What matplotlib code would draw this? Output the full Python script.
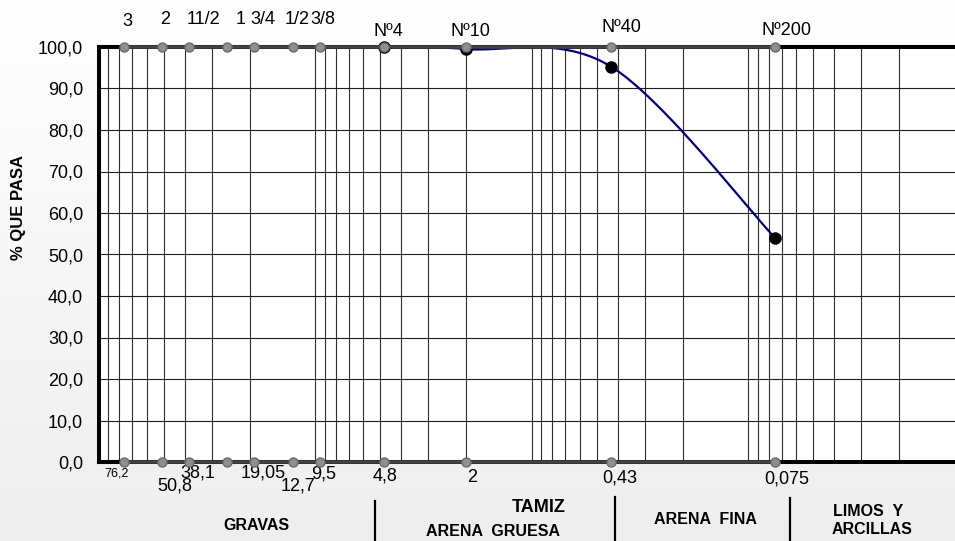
import numpy as np
import matplotlib
matplotlib.use("Agg")
import matplotlib.pyplot as plt
from matplotlib.lines import Line2D

plt.rcParams['font.family'] = ['Liberation Sans', 'DejaVu Sans']

# sieve openings (mm) and their names
sieve_mm = [76.2, 50.8, 38.1, 25.4, 19.05, 12.7, 9.5, 4.8, 2.0, 0.43, 0.075]
sieve_names = ["3", "2", "11/2", "1", "3/4", "1/2", "3/8", "Nº4", "Nº10", "Nº40", "Nº200"]
sieve_sizes = ["76,2", "50,8", "38,1", "", "19,05", "12,7", "9,5", "4,8", "2", "0,43", "0,075"]

# grading results
grain_mm = [4.8, 2.0, 0.43, 0.075]
pct_pass = [100.0, 99.5, 95.3, 54.0]

y_ticks = [0, 10, 20, 30, 40, 50, 60, 70, 80, 90, 100]

# label offsets in pixels (dx, dy) relative to each sieve point
top_off = [(3, 26), (3, 28), (14, 28), (13, 28), (8, 28), (5, 28), (3, 28),
           (4, 15), (4, 15), (11, 19), (11, 16)]
bot_off = [(-8, -11), (13, -24), (9, -11), (0, 0), (9, -11), (5, -24), (4, -12),
           (1, -14), (6, -16), (9, -16), (12, -17)]

W, H = 955, 541
fig = plt.figure(figsize=(W / 100, H / 100), dpi=100)

# soft white-to-grey background
bg = fig.add_axes([0, 0, 1, 1], zorder=-10)
grad = np.linspace(1.0, 0.935, 256)[:, None]
bg.imshow(np.dstack([grad, grad, grad]), aspect='auto', extent=[0, 1, 0, 1])
bg.axis('off')

ax = fig.add_axes([98.5 / W, (H - 462) / H, 866 / W, 415 / H])
ax.set_facecolor('white')
ax.set_xscale('log')
ax.set_xlim(100, 0.01)
ax.set_ylim(0, 100)
ax.set_yticks(y_ticks)
ax.set_yticklabels(["%d,0" % v for v in y_ticks], fontsize=13)
ax.tick_params(axis='y', length=0, pad=11)
ax.tick_params(axis='x', which='both', length=0, labelbottom=False)
ax.grid(True, which='both', axis='x', color='#2e2e2e', lw=0.8)
ax.grid(True, which='major', axis='y', color='#1e1e1e', lw=0.8)
ax.set_axisbelow(True)
for s in ['left', 'top', 'bottom']:
    ax.spines[s].set_linewidth(2.9)
    ax.spines[s].set_color('black')
ax.spines['right'].set_visible(False)


def smooth_curve(ax, xs, ys, n=60):
    # Bezier smoothing in display space, like a spreadsheet "smoothed line"
    pts = ax.transData.transform(np.column_stack([xs, ys]))
    p = np.vstack([pts[0], pts, pts[-1]])
    t = np.linspace(0, 1, n)[:, None]
    segs = []
    for i in range(1, len(p) - 2):
        p0, p1, p2, p3 = p[i - 1], p[i], p[i + 1], p[i + 2]
        c1 = p1 + (p2 - p0) / 6
        c2 = p2 - (p3 - p1) / 6
        segs.append((1 - t) ** 3 * p1 + 3 * (1 - t) ** 2 * t * c1
                    + 3 * (1 - t) * t ** 2 * c2 + t ** 3 * p2)
    return ax.transData.inverted().transform(np.vstack(segs))


curve = smooth_curve(ax, grain_mm, pct_pass)
ax.plot(curve[:, 0], curve[:, 1], color='#000080', lw=1.6, zorder=3, clip_on=False)
ax.plot(grain_mm, pct_pass, 'o', color='black', ms=8, zorder=4, clip_on=False)

# sieve series along the top and bottom borders
for yv in (100, 0):
    ax.plot(sieve_mm, [yv] * len(sieve_mm), '-o', color='#424242', lw=2.6,
            ms=6.5, mfc='#8e8e8e', mec='#6c6c6c', mew=1, zorder=5, clip_on=False)

for x, name, (dx, dy) in zip(sieve_mm, sieve_names, top_off):
    ax.annotate(name, (x, 100), xytext=(dx, dy), textcoords='offset pixels',
                ha='center', va='center', fontsize=13, annotation_clip=False)
for i, (x, lab, (dx, dy)) in enumerate(zip(sieve_mm, sieve_sizes, bot_off)):
    if not lab:
        continue
    ax.annotate(lab, (x, 0), xytext=(dx, dy), textcoords='offset pixels',
                ha='center', va='center', fontsize=9 if i == 0 else 13,
                annotation_clip=False)

fig.text(18 / W, 1 - 207 / H, "% QUE PASA", rotation=90, ha='center', va='center',
         fontsize=12, fontweight='bold')


def ftext(x, y, s, size=11.5):
    fig.text(x / W, 1 - y / H, s, ha='center', va='center', fontsize=size,
             fontweight='bold')


ftext(256, 526, "GRAVAS")
ftext(539, 508, "TAMIZ", 13)
ftext(493, 531, "ARENA  GRUESA")
ftext(705, 519, "ARENA  FINA")
ftext(868, 511, "LIMOS  Y")
ftext(872, 530, "ARCILLAS")

for x, y0 in [(375, 501), (615, 497), (790, 498)]:
    fig.add_artist(Line2D([x / W, x / W], [1 - y0 / H, 0], color='black', lw=1.6))

fig.savefig("out.png", dpi=100)
